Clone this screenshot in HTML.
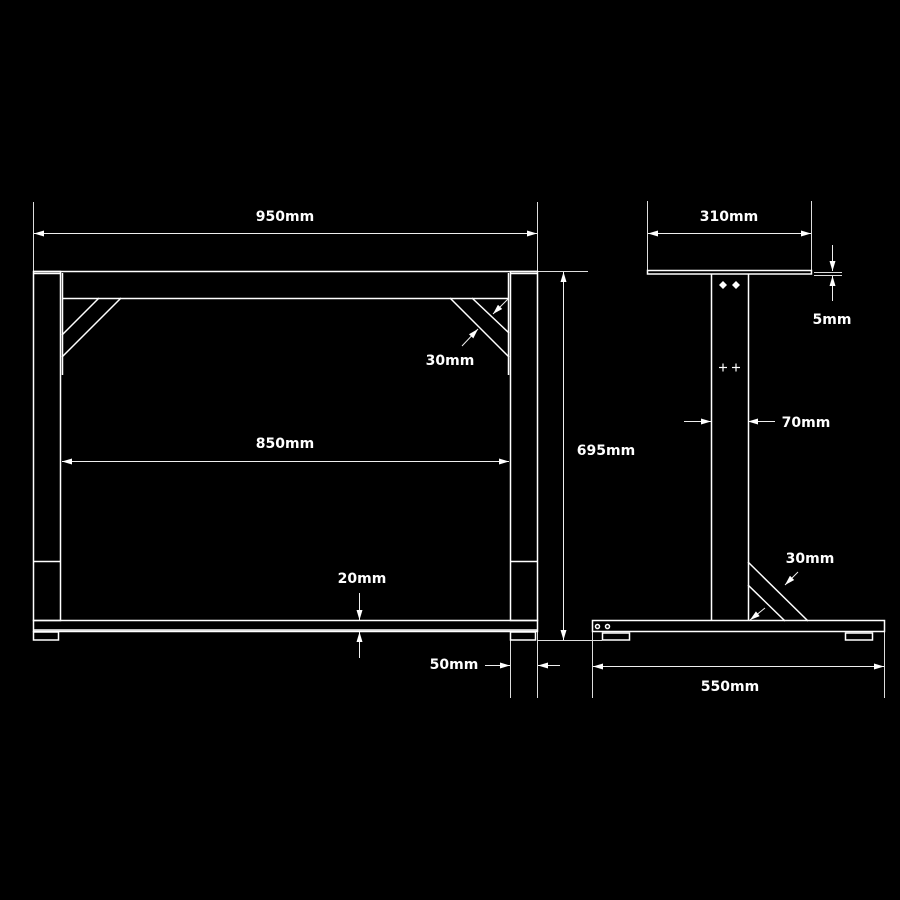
<!DOCTYPE html>
<html><head><meta charset="utf-8"><style>
html,body{margin:0;padding:0;background:#000;}
svg{display:block}
text{font-family:"DejaVu Sans","Liberation Sans",sans-serif;font-size:14px;font-weight:bold;fill:#fff;text-anchor:middle}
</style></head><body>
<svg width="900" height="900" viewBox="0 0 900 900" xmlns="http://www.w3.org/2000/svg">
<defs>
<marker id="a" viewBox="0 0 10 6" refX="10" refY="3" markerWidth="14" markerHeight="6" markerUnits="userSpaceOnUse" orient="auto"><path d="M0,0L10,3L0,6z" fill="#fff"/></marker>
</defs>
<rect width="900" height="900" fill="#000"/>
<g stroke="#ddd" stroke-width="1" fill="none">
<line x1="33.5" y1="202" x2="33.5" y2="640"/>
<line x1="537.5" y1="202" x2="537.5" y2="698"/>
<line x1="510.5" y1="640" x2="510.5" y2="698"/>
<line x1="537" y1="271.5" x2="588" y2="271.5"/>
<line x1="537" y1="640.5" x2="602" y2="640.5"/>
<line x1="647.5" y1="201" x2="647.5" y2="272"/>
<line x1="811.5" y1="201" x2="811.5" y2="272"/>
<line x1="814" y1="272.5" x2="842" y2="272.5"/>
<line x1="814" y1="275.5" x2="842" y2="275.5"/>
<line x1="592.5" y1="631" x2="592.5" y2="698"/>
<line x1="884.5" y1="631" x2="884.5" y2="698"/>
</g>
<g stroke="#eee" stroke-width="1" fill="none" marker-end="url(#a)">
<line x1="285" y1="233.5" x2="34" y2="233.5"/>
<line x1="285" y1="233.5" x2="537" y2="233.5"/>
<line x1="285" y1="461.5" x2="62" y2="461.5"/>
<line x1="285" y1="461.5" x2="509" y2="461.5"/>
<line x1="563.5" y1="450" x2="563.5" y2="272"/>
<line x1="563.5" y1="450" x2="563.5" y2="640"/>
<line x1="359.5" y1="593" x2="359.5" y2="620"/>
<line x1="359.5" y1="658" x2="359.5" y2="632"/>
<line x1="485" y1="665.5" x2="510" y2="665.5"/>
<line x1="560" y1="665.5" x2="538" y2="665.5"/>
<line x1="462" y1="346" x2="478" y2="329"/>
<line x1="508" y1="299" x2="493" y2="314"/>
<line x1="729" y1="233.5" x2="648" y2="233.5"/>
<line x1="729" y1="233.5" x2="811" y2="233.5"/>
<line x1="832.5" y1="245" x2="832.5" y2="271"/>
<line x1="832.5" y1="301" x2="832.5" y2="276"/>
<line x1="684" y1="421.5" x2="711" y2="421.5"/>
<line x1="775" y1="421.5" x2="748" y2="421.5"/>
<line x1="798" y1="572" x2="785" y2="585"/>
<line x1="765" y1="608" x2="750" y2="620"/>
<line x1="738" y1="666.5" x2="593" y2="666.5"/>
<line x1="738" y1="666.5" x2="884" y2="666.5"/>
</g>
<g stroke="#fff" stroke-width="1.5" fill="none">
<line x1="33" y1="271.5" x2="537" y2="271.5"/>
<line x1="33" y1="273.5" x2="60" y2="273.5"/>
<line x1="510" y1="273.5" x2="537" y2="273.5"/>
<rect x="33.5" y="271.5" width="27" height="349"/>
<rect x="510.5" y="271.5" width="27" height="349"/>
<line x1="62.5" y1="273" x2="62.5" y2="375"/>
<line x1="508.5" y1="273" x2="508.5" y2="375"/>
<line x1="62" y1="298.5" x2="509" y2="298.5"/>
<line x1="99" y1="298" x2="62" y2="335"/>
<line x1="121" y1="298" x2="62" y2="357"/>
<line x1="450" y1="298" x2="509" y2="357"/>
<line x1="472" y1="298" x2="509" y2="333"/>
<line x1="33" y1="561.5" x2="60" y2="561.5"/>
<line x1="510" y1="561.5" x2="537" y2="561.5"/>
<rect x="33.5" y="620.5" width="504" height="11"/>
<line x1="33" y1="630" x2="537" y2="630"/>
<rect x="33.5" y="632" width="25" height="8"/>
<rect x="510.5" y="632" width="25" height="8"/>
<rect x="647.5" y="270.5" width="164" height="3.5"/>
<line x1="711.5" y1="274" x2="711.5" y2="621"/>
<line x1="748.5" y1="274" x2="748.5" y2="621"/>
<line x1="748" y1="562" x2="808" y2="621"/>
<line x1="748" y1="585" x2="785" y2="621"/>
<rect x="592.5" y="620.5" width="292" height="11"/>
<rect x="602.5" y="633" width="27" height="7"/>
<rect x="845.5" y="633" width="27" height="7"/>
<circle cx="597.5" cy="626.5" r="2"/>
<circle cx="607.5" cy="626.5" r="2"/>
</g>
<g fill="#fff">
<path d="M723,281l4,4l-4,4l-4,-4z"/><path d="M736,281l4,4l-4,4l-4,-4z"/>
</g>
<g stroke="#fff" stroke-width="1.2">
<line x1="719" y1="367.5" x2="727" y2="367.5"/><line x1="723" y1="363.5" x2="723" y2="371.5"/>
<line x1="732" y1="367.5" x2="740" y2="367.5"/><line x1="736" y1="363.5" x2="736" y2="371.5"/>
</g>
<text x="285" y="221">950mm</text>
<text x="285" y="448">850mm</text>
<text x="606" y="455">695mm</text>
<text x="450" y="365">30mm</text>
<text x="362" y="583">20mm</text>
<text x="454" y="669">50mm</text>
<text x="729" y="221">310mm</text>
<text x="832" y="324">5mm</text>
<text x="806" y="427">70mm</text>
<text x="810" y="563">30mm</text>
<text x="730" y="691">550mm</text>
</svg>
</body></html>
